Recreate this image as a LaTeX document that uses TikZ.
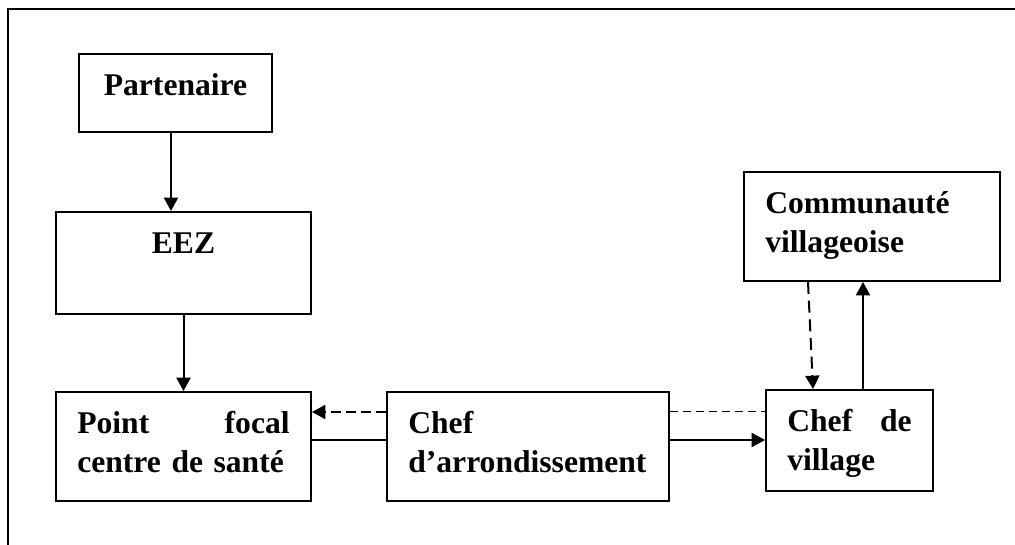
\documentclass[tikz,border=0pt]{standalone}
\usepackage{fontspec}
\setmainfont{Liberation Serif}
\usetikzlibrary{arrows.meta}

\begin{document}
\begin{tikzpicture}[x=0.75pt,y=-0.75pt,
  box/.style={draw,line width=1.5pt,anchor=north west,inner xsep=16pt,inner ysep=0pt,
    text height=31.5pt,font=\fontsize{23.7pt}{29pt}\selectfont\bfseries},
  arr/.style={line width=1.5pt,-{Triangle[length=10pt,width=10.5pt]}},
  dasharr/.style={arr,dash pattern=on 7.5pt off 3.75pt}]
\useasboundingbox (0,0) rectangle (1015,545);
\draw[line width=1.5pt] (8,560) -- (8,9) -- (1030,9);

\node[box,text width=112.75pt,text depth=27pt,align=center] (part) at (78,53) {Partenaire};
\node[box,text width=159.25pt,text depth=45pt,align=center] (eez) at (55,211) {EEZ};
\node[box,text width=159.25pt,text depth=50.25pt,align=left] (pf) at (55,391) {Point\hfill focal\\centre de santé};
\node[box,text width=179.5pt,text depth=50.25pt,align=left] (chefa) at (386,391) {Chef\\d’arrondissement};
\node[box,text width=93.25pt,text depth=44.25pt,align=left] (cv) at (765,389) {Chef\hfill de\\village};
\node[box,text width=160pt,text depth=50.25pt,align=left] (com) at (743,171) {Communauté\\villageoise};

\draw[arr] ([xshift=-3.4pt]part.south) -- ([xshift=-3.4pt]part.south |- eez.north);
\draw[arr] (eez.south) -- (eez.south |- pf.north);
\draw[dasharr] ([yshift=-15.75pt]chefa.north west) -- ([yshift=-15.75pt]chefa.north west -| pf.east);
\draw[line width=1.5pt] ([yshift=-36.75pt]pf.north east) -- ([yshift=-36.75pt]pf.north east -| chefa.west);
\draw[line width=0.75pt,dash pattern=on 6pt off 3.75pt] ([yshift=-15.75pt]chefa.north east) -- ([yshift=-15.75pt]chefa.north east -| cv.west);
\draw[arr] ([yshift=-36.75pt]chefa.north east) -- ([yshift=-36.75pt]chefa.north east -| cv.west);
\draw[dasharr,dash pattern=on 9pt off 5pt] ([xshift=48.75pt]com.south west) -- ([xshift=36pt]cv.north west);
\draw[arr] ([xshift=73.5pt]cv.north west) -- ([xshift=73.5pt]cv.north west |- com.south);
\end{tikzpicture}
\end{document}
